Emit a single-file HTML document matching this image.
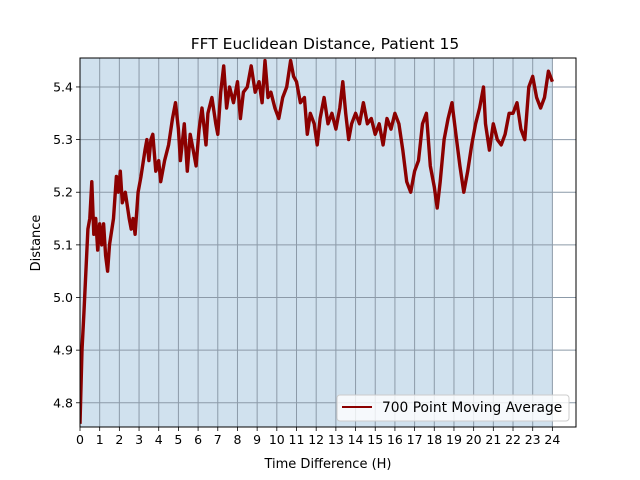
<!DOCTYPE html>
<html><head><meta charset="utf-8"><style>
body{margin:0;background:#fff}
svg{display:block;font-family:"DejaVu Sans","Liberation Sans",sans-serif}
</style></head><body>
<svg width="640" height="480" id="c">
<rect x="0" y="0" width="640" height="480" fill="#fff"/>
<text x="325" y="49" text-anchor="middle" font-size="15.5">FFT Euclidean Distance, Patient 15</text>
<text x="328" y="468" text-anchor="middle" font-size="13">Time Difference (H)</text>
<text x="40" y="243" text-anchor="middle" font-size="13" transform="rotate(-90 40 243)">Distance</text>
<g id="plot"></g>
</svg>
<script>
const times=[0,0.1,0.2,0.3,0.4,0.5,0.6,0.7,0.8,0.9,1.0,1.1,1.2,1.3,1.4,1.5,1.7,1.85,1.95,2.05,2.15,2.3,2.5,2.6,2.7,2.8,2.95,3.1,3.3,3.4,3.5,3.6,3.7,3.85,4.0,4.1,4.3,4.5,4.7,4.85,5.0,5.1,5.3,5.45,5.6,5.75,5.9,6.05,6.2,6.4,6.5,6.7,6.9,7.0,7.15,7.3,7.45,7.6,7.8,8.0,8.15,8.3,8.5,8.7,8.9,9.1,9.25,9.4,9.55,9.7,9.9,10.1,10.3,10.5,10.7,10.85,11.0,11.2,11.4,11.55,11.7,11.9,12.05,12.2,12.4,12.6,12.8,13.0,13.2,13.35,13.5,13.65,13.8,14.0,14.2,14.4,14.6,14.8,15.0,15.2,15.4,15.6,15.8,16.0,16.2,16.4,16.6,16.8,17.0,17.2,17.4,17.6,17.8,18.0,18.15,18.3,18.5,18.7,18.9,19.1,19.3,19.5,19.7,19.9,20.1,20.3,20.5,20.6,20.8,21.0,21.2,21.4,21.6,21.8,22.0,22.2,22.4,22.6,22.8,23.0,23.2,23.4,23.6,23.8,24.0];
const distances=[4.76,4.9,4.97,5.05,5.13,5.15,5.22,5.12,5.15,5.09,5.14,5.10,5.14,5.08,5.05,5.10,5.15,5.23,5.20,5.24,5.18,5.20,5.15,5.13,5.15,5.12,5.20,5.23,5.28,5.30,5.26,5.30,5.31,5.24,5.26,5.22,5.26,5.29,5.34,5.37,5.32,5.26,5.33,5.24,5.31,5.28,5.25,5.32,5.36,5.29,5.35,5.38,5.33,5.31,5.39,5.44,5.36,5.40,5.37,5.41,5.34,5.39,5.40,5.44,5.39,5.41,5.37,5.45,5.38,5.39,5.36,5.34,5.38,5.40,5.45,5.42,5.41,5.37,5.38,5.31,5.35,5.33,5.29,5.34,5.38,5.33,5.35,5.32,5.36,5.41,5.35,5.30,5.33,5.35,5.33,5.37,5.33,5.34,5.31,5.33,5.29,5.34,5.32,5.35,5.33,5.28,5.22,5.20,5.24,5.26,5.33,5.35,5.25,5.21,5.17,5.22,5.30,5.34,5.37,5.31,5.25,5.20,5.24,5.29,5.33,5.36,5.40,5.33,5.28,5.33,5.30,5.29,5.31,5.35,5.35,5.37,5.32,5.30,5.40,5.42,5.38,5.36,5.38,5.43,5.41];
const xTicks=[0,1,2,3,4,5,6,7,8,9,10,11,12,13,14,15,16,17,18,19,20,21,22,23,24];
const yTicks=[4.8,4.9,5.0,5.1,5.2,5.3,5.4];
const L=80,R=576,T=58,B=427;
const xMin=0,xMax=25.2,yMin=4.754,yMax=5.455;
const xs=v=>L+(v-xMin)/(xMax-xMin)*(R-L);
const ys=v=>B-(v-yMin)/(yMax-yMin)*(B-T);
const NS='http://www.w3.org/2000/svg';
const g=document.getElementById('plot');
function mk(tag,attrs,parent){const e=document.createElementNS(NS,tag);for(const k in attrs)e.setAttribute(k,attrs[k]);(parent||g).appendChild(e);return e;}
const shade=mk('rect',{x:xs(0),y:T,width:xs(24)-xs(0),height:B-T,fill:'#d0e1ee'});


xTicks.forEach(t=>{
  const l=mk('line',{x1:xs(t),x2:xs(t),y1:T,y2:B,stroke:'#8c9aa8','stroke-width':1});
  
  
  mk('line',{x1:xs(t),x2:xs(t),y1:B,y2:B+4,stroke:'#000','stroke-width':0.8});
  const tx=mk('text',{x:xs(t),y:B+17,'text-anchor':'middle','font-size':12.5});
  tx.textContent=t;
  
  
});
yTicks.forEach(t=>{
  const l=mk('line',{x1:L,x2:R,y1:ys(t),y2:ys(t),stroke:'#8c9aa8','stroke-width':1});
  
  
  mk('line',{x1:L-4,x2:L,y1:ys(t),y2:ys(t),stroke:'#000','stroke-width':0.8});
  const tx=mk('text',{x:L-7,y:ys(t)+4.5,'text-anchor':'end','font-size':12.5});
  tx.textContent=t.toFixed(1);
  
  
});
const d=times.map((t,i)=>(i?'L':'M')+xs(t).toFixed(1)+','+ys(distances[i]).toFixed(1)).join(' ');
const clip=mk('clipPath',{id:'cp'});mk('rect',{x:L,y:T,width:R-L,height:B-T},clip);
const p=mk('path',{d:d,fill:'none',stroke:'#8b0000','stroke-width':3.4,'stroke-linejoin':'round','clip-path':'url(#cp)'});


const fr=mk('rect',{x:L,y:T,width:R-L,height:B-T,fill:'none',stroke:'#000','stroke-width':1});


const lg=mk('g',{});


mk('rect',{x:337,y:395,width:232,height:26,rx:3,fill:'#fff','fill-opacity':0.8,stroke:'#ccc'},lg);
mk('line',{x1:342,x2:372,y1:407,y2:407,stroke:'#8b0000','stroke-width':2},lg);
const lt=mk('text',{x:382,y:412,'font-size':13.8},lg);
lt.textContent='700 Point Moving Average';


</script>
</body></html>
